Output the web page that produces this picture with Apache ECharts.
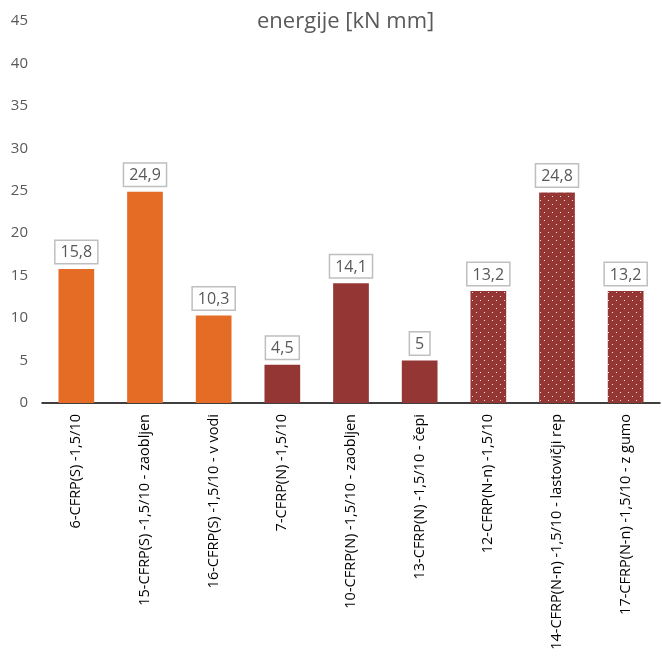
<html>
<head>
    <meta charset="utf-8">
    <script src="https://cdn.jsdelivr.net/npm/echarts@6/dist/echarts.min.js"></script>
    <style>
        html, body, #main {
            width: 100%;
            height: 100%;
            margin: 0;
            background: #fff;
        }
    </style>
</head>
<body>
<div id="main"></div>
<script>
    var categories = [
        '6-CFRP(S) -1,5/10',
        '15-CFRP(S) -1,5/10 - zaobljen',
        '16-CFRP(S) -1,5/10 - v vodi',
        '7-CFRP(N) -1,5/10',
        '10-CFRP(N) -1,5/10 - zaobljen',
        '13-CFRP(N) -1,5/10 - čepi',
        '12-CFRP(N-n) -1,5/10',
        '14-CFRP(N-n) -1,5/10 - lastovičji rep',
        '17-CFRP(N-n) -1,5/10 - z gumo'
    ];
    var values = [15.8, 24.9, 10.3, 4.5, 14.1, 5, 13.2, 24.8, 13.2];
    var groups = ['S', 'S', 'S', 'N', 'N', 'N', 'N-n', 'N-n', 'N-n'];

    var orange = '#E46C24';
    var darkRed = '#943634';
    // white dotted fill for the N-n group
    var dots = {
        symbol: 'rect',
        symbolSize: 1,
        color: 'rgba(255,255,255,0.85)',
        dashArrayX: [[1, 7], [0, 4, 1, 3]],
        dashArrayY: [1, 3],
        rotation: 0
    };

    var barData = values.map(function (v, i) {
        var g = groups[i];
        var style = {color: g === 'S' ? orange : darkRed};
        if (g === 'N-n') style.decal = dots;
        return {value: v, itemStyle: style};
    });

    var chart = echarts.init(document.getElementById('main'));
    var font = '"Open Sans", "Liberation Sans", sans-serif';

    chart.setOption({
        animation: false,
        textStyle: {fontFamily: font},
        title: {
            text: 'energije [kN mm]',
            left: 252,
            top: 6,
            textStyle: {fontSize: 22, fontWeight: 'normal', color: '#595959', fontFamily: font}
        },
        grid: {left: 42, right: 2, top: 21, bottom: 253, containLabel: false},
        xAxis: {
            type: 'category',
            data: categories,
            axisLine: {lineStyle: {color: '#000', width: 1.5}},
            axisTick: {show: false},
            axisLabel: {
                rotate: 90,
                interval: 0,
                margin: 11,
                fontSize: 14.5,
                color: '#000',
                fontFamily: font
            }
        },
        yAxis: {
            type: 'value',
            min: 0,
            max: 45,
            interval: 5,
            axisLine: {show: false},
            axisTick: {show: false},
            splitLine: {show: false},
            axisLabel: {fontSize: 15, color: '#595959', margin: 14, fontFamily: font}
        },
        series: [{
            type: 'bar',
            data: barData,
            barCategoryGap: '48%',
            label: {
                show: true,
                position: 'top',
                distance: 6,
                fontSize: 16,
                color: '#595959',
                backgroundColor: '#fff',
                borderColor: '#bfbfbf',
                borderWidth: 1.5,
                padding: [4, 5, 2, 5],
                fontFamily: font,
                formatter: function (p) {
                    return String(p.value).replace('.', ',');
                }
            }
        }]
    });
</script>
</body>
</html>
